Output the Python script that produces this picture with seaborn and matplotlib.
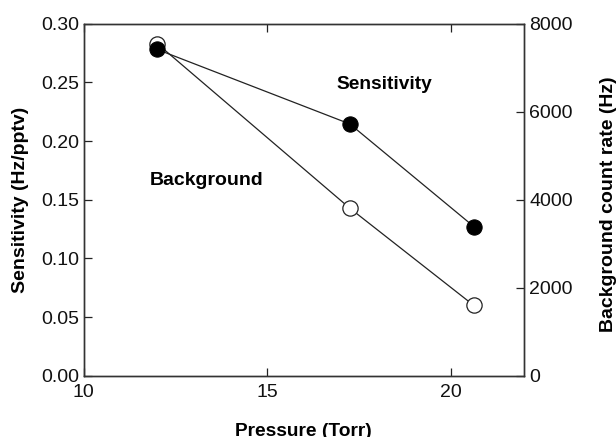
import numpy as np
import pandas as pd
import matplotlib
matplotlib.use("Agg")
import matplotlib.pyplot as plt
import seaborn as sns

# data
pressure_sens = [12.0, 17.25, 20.64]
sensitivity = [0.278, 0.2145, 0.1268]
pressure_bg = [12.0, 17.25, 20.62]
background = [7545, 3806, 1603]

sns.set_style("ticks")
plt.rcParams["font.family"] = ["Liberation Sans", "DejaVu Sans"]
plt.rcParams["xtick.direction"] = "in"
plt.rcParams["ytick.direction"] = "in"
plt.rcParams["text.color"] = "black"
plt.rcParams["axes.labelcolor"] = "black"
plt.rcParams["xtick.color"] = "#222222"
plt.rcParams["ytick.color"] = "#222222"
plt.rcParams["xtick.labelcolor"] = "#111111"
plt.rcParams["ytick.labelcolor"] = "#111111"

fig = plt.figure(figsize=(6.16, 4.37), dpi=100)
ax = fig.add_axes([0.136, 0.140, 0.715, 0.806])
ax2 = ax.twinx()

# background on the twin axis, sensitivity on top
sns.lineplot(x=pressure_bg, y=background, ax=ax2, color="#222222", linewidth=0.9,
             marker="o", markersize=11, markerfacecolor="white",
             markeredgecolor="#222222", markeredgewidth=0.9)
sns.lineplot(x=pressure_sens, y=sensitivity, ax=ax, color="#222222", linewidth=0.9,
             marker="o", markersize=11, markerfacecolor="black",
             markeredgecolor="black")
ax.set_zorder(ax2.get_zorder() + 1)
ax.patch.set_visible(False)

ax.set_xlim(10, 22)
ax.set_ylim(0, 0.30)
ax2.set_ylim(0, 8000)
ax.set_xticks([10, 15, 20])
ax.set_yticks(np.arange(0, 0.31, 0.05))
ax.set_yticklabels([f"{v:.2f}" for v in np.arange(0, 0.31, 0.05)])
ax2.set_yticks([0, 2000, 4000, 6000, 8000])
ax.tick_params(axis="both", labelsize=14, length=6, width=0.9, top=True)
ax2.tick_params(axis="y", labelsize=14, length=6, width=0.9)
ax.tick_params(axis="x", pad=6)

for a in (ax, ax2):
    for s in a.spines.values():
        s.set_visible(True)
        s.set_linewidth(1.0)
        s.set_color("#333333")

ax.set_xlabel("Pressure (Torr)", fontsize=13.8, fontweight="bold")
ax.set_ylabel("Sensitivity (Hz/pptv)", fontsize=14, fontweight="bold")
ax2.set_ylabel("Background count rate (Hz)", fontsize=14, fontweight="bold",
               rotation=90)
ax.xaxis.set_label_coords(0.498, -0.133)
ax.yaxis.set_label_coords(-0.125, 0.5)
ax2.yaxis.set_label_coords(1.173, 0.488)

ax.text(18.18, 0.248, "Sensitivity", fontsize=13.8, fontweight="bold",
        ha="center", va="center")
ax.text(13.36, 0.166, "Background", fontsize=14, fontweight="bold",
        ha="center", va="center")

fig.savefig("out.png", dpi=100)
